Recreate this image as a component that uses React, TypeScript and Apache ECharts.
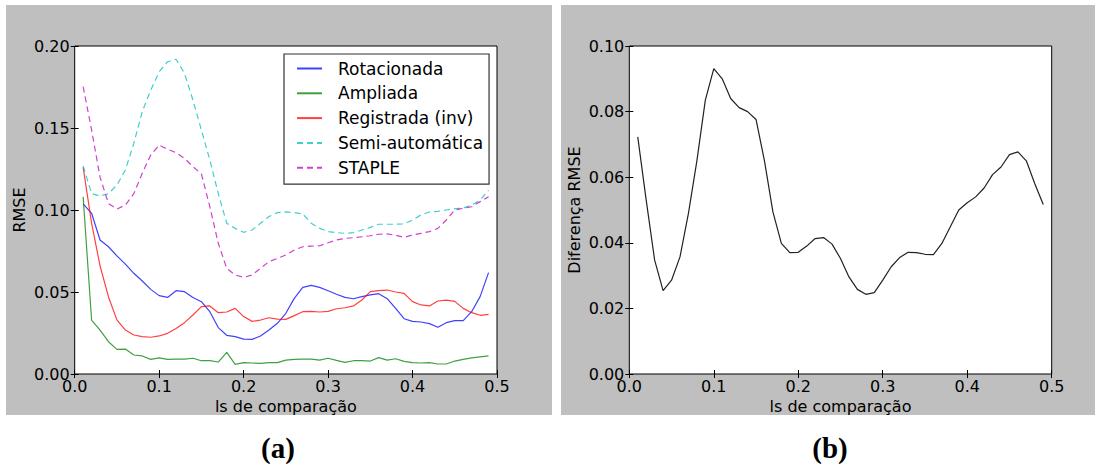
import React, { useEffect, useRef } from "react";
import * as echarts from "echarts";

const ls = [0.01,0.02,0.03,0.04,0.05,0.06,0.07,0.08,0.09,0.10,0.11,0.12,0.13,0.14,0.15,0.16,0.17,0.18,0.19,0.20,0.21,0.22,0.23,0.24,0.25,0.26,0.27,0.28,0.29,0.30,0.31,0.32,0.33,0.34,0.35,0.36,0.37,0.38,0.39,0.40,0.41,0.42,0.43,0.44,0.45,0.46,0.47,0.48,0.49];

const rotacionada = [0.1037,0.098,0.0817,0.0776,0.072,0.067,0.0614,0.0567,0.0516,0.0478,0.0467,0.0508,0.0502,0.0467,0.0441,0.038,0.0283,0.0236,0.0228,0.0213,0.0211,0.0232,0.0268,0.0309,0.037,0.0461,0.0528,0.054,0.0528,0.0508,0.0486,0.0467,0.0459,0.0472,0.0482,0.049,0.0459,0.040,0.0337,0.0321,0.0317,0.0307,0.0285,0.0313,0.0325,0.0325,0.038,0.0472,0.0618];
const ampliada = [0.108,0.0329,0.0268,0.0197,0.015,0.0152,0.0116,0.011,0.0089,0.0098,0.0089,0.0091,0.0091,0.0096,0.0081,0.0081,0.0073,0.0132,0.0059,0.0069,0.0067,0.0065,0.0069,0.0069,0.0085,0.0089,0.0091,0.0091,0.0085,0.0096,0.0083,0.0071,0.0081,0.0081,0.0079,0.01,0.0085,0.0093,0.0077,0.0069,0.0067,0.0069,0.0061,0.0061,0.0079,0.0089,0.0098,0.0104,0.011];
const registrada = [0.126,0.092,0.066,0.047,0.033,0.0268,0.0238,0.0228,0.0224,0.0232,0.0248,0.0278,0.0313,0.036,0.0411,0.0415,0.0374,0.0378,0.040,0.035,0.0321,0.0329,0.0343,0.0335,0.0333,0.0356,0.038,0.0382,0.0378,0.0382,0.0398,0.0404,0.0415,0.0451,0.0502,0.0508,0.0512,0.050,0.0492,0.0441,0.0421,0.0415,0.0445,0.0451,0.0443,0.040,0.0374,0.0358,0.0364];
const semiAutomatica = [0.1268,0.110,0.1085,0.110,0.1152,0.1244,0.1407,0.16,0.173,0.1843,0.1904,0.1919,0.1833,0.167,0.1488,0.1305,0.110,0.0919,0.0888,0.0864,0.0878,0.0919,0.096,0.0984,0.0988,0.0984,0.0976,0.0919,0.0888,0.0868,0.0862,0.0858,0.0862,0.0878,0.0894,0.0913,0.0913,0.0913,0.0915,0.0939,0.097,0.0988,0.0992,0.100,0.1008,0.1012,0.103,0.106,0.112];
const staple = [0.1752,0.1488,0.120,0.104,0.1006,0.103,0.110,0.1224,0.1335,0.1396,0.137,0.135,0.1315,0.1264,0.122,0.102,0.0797,0.0644,0.0604,0.0589,0.0604,0.0644,0.0685,0.0705,0.0726,0.0756,0.0776,0.078,0.0782,0.080,0.0817,0.0827,0.0831,0.0837,0.0843,0.0852,0.0854,0.0846,0.0833,0.0848,0.0858,0.0868,0.0888,0.0939,0.100,0.101,0.102,0.1051,0.108];
const diferencaRmse = [0.0723,0.053,0.0347,0.0254,0.0286,0.0357,0.049,0.065,0.0835,0.0931,0.090,0.084,0.0812,0.080,0.0776,0.065,0.0494,0.0398,0.037,0.0371,0.039,0.0413,0.0416,0.0396,0.0352,0.0296,0.0258,0.0243,0.0248,0.0286,0.0327,0.0355,0.0371,0.037,0.0365,0.0364,0.0398,0.0449,0.050,0.0522,0.054,0.0567,0.0608,0.0631,0.0669,0.0677,0.065,0.058,0.0517];

const seriesNames = ["Rotacionada", "Ampliada", "Registrada (inv)", "Semi-automática", "STAPLE"];
const xAxisTitle = "ls de comparação";
const yTitleA = "RMSE";
const yTitleB = "Diferença RMSE";
const panelLabels = ["(a)", "(b)"];

const FONT = "'DejaVu Sans', sans-serif";

export default function App() {
  const ref = useRef<HTMLDivElement>(null);
  useEffect(() => {
    if (!ref.current) return;
    const chart = echarts.init(ref.current, null, { renderer: "svg" });
    const pairs = (ys: number[]) => ls.map((x, i) => [x, ys[i]]);
    const tickStyle = { show: true, inside: true, length: 4, lineStyle: { color: "#000", width: 1 } };
    const labelStyle = { color: "#000", fontSize: 16, fontFamily: FONT };
    const nameStyle = { color: "#000", fontSize: 16, fontFamily: FONT };
    const mkX = (grid: number, bottom: boolean) => ({
      type: "value", gridIndex: grid, position: bottom ? "bottom" : "top",
      min: 0, max: 0.5, interval: 0.1,
      axisLine: { show: false }, splitLine: { show: false },
      axisTick: tickStyle,
      axisLabel: bottom ? { ...labelStyle, margin: 4, formatter: (v: number) => v.toFixed(1) } : { show: false },
      name: bottom ? xAxisTitle : "", nameLocation: "middle", nameGap: 24, nameTextStyle: nameStyle,
    });
    const mkY = (grid: number, left: boolean, max: number, interval: number, title: string, gap: number) => ({
      type: "value", gridIndex: grid, position: left ? "left" : "right",
      min: 0, max, interval,
      axisLine: { show: false }, splitLine: { show: false },
      axisTick: tickStyle,
      axisLabel: left ? { ...labelStyle, margin: 5, formatter: (v: number) => v.toFixed(2) } : { show: false },
      name: left ? title : "", nameLocation: "middle", nameRotate: 90, nameGap: gap, nameTextStyle: nameStyle,
    });
    const line = (name: string, ys: number[], color: string, dashed: boolean) => ({
      type: "line", name, xAxisIndex: 0, yAxisIndex: 0, data: pairs(ys),
      symbol: "none", showSymbol: false, z: 3,
      lineStyle: { color, width: 1.2, opacity: 0.75, type: dashed ? [6, 4] : "solid" },
      itemStyle: { color },
    });
    chart.setOption({
      animation: false,
      graphic: [
        { type: "rect", z: -10, silent: true, shape: { x: 6, y: 5, width: 546, height: 410 }, style: { fill: "#bfbfbf" } },
        { type: "rect", z: -10, silent: true, shape: { x: 561, y: 5, width: 534, height: 410 }, style: { fill: "#bfbfbf" } },
        { type: "text", x: 278, y: 448, style: { text: panelLabels[0], fill: "#000", font: "bold 29px 'Liberation Serif', serif", align: "center", verticalAlign: "middle" } },
        { type: "text", x: 830, y: 448, style: { text: panelLabels[1], fill: "#000", font: "bold 29px 'Liberation Serif', serif", align: "center", verticalAlign: "middle" } },
      ],
      grid: [
        { left: 74.7, top: 46, width: 422.3, height: 328, show: true, backgroundColor: "#fff", borderColor: "#000", borderWidth: 1 },
        { left: 629.3, top: 46, width: 422.4, height: 328, show: true, backgroundColor: "#fff", borderColor: "#000", borderWidth: 1 },
      ],
      xAxis: [mkX(0, true), mkX(0, false), mkX(1, true), mkX(1, false)],
      yAxis: [
        mkY(0, true, 0.2, 0.05, yTitleA, 47), mkY(0, false, 0.2, 0.05, "", 47),
        mkY(1, true, 0.1, 0.02, yTitleB, 47), mkY(1, false, 0.1, 0.02, "", 47),
      ],
      legend: {
        show: true, orient: "vertical", left: 284, top: 54,
        padding: [6, 6, 8, 12], itemGap: 7.8, itemWidth: 25, itemHeight: 14,
        backgroundColor: "#fff", borderColor: "#333", borderWidth: 1.2, borderRadius: 0,
        align: "left",
        itemStyle: { color: "transparent", borderWidth: 0, opacity: 0 },
        textStyle: { color: "#000", fontSize: 17, fontFamily: FONT, lineHeight: 17, padding: [0, 0, 0, 11] },
        data: seriesNames,
      },
      series: [
        line(seriesNames[0], rotacionada, "#0000ff", false),
        line(seriesNames[1], ampliada, "#008000", false),
        line(seriesNames[2], registrada, "#ff0000", false),
        line(seriesNames[3], semiAutomatica, "#00bfbf", true),
        line(seriesNames[4], staple, "#bf00bf", true),
        {
          type: "line", name: "diff", xAxisIndex: 2, yAxisIndex: 2, data: pairs(diferencaRmse),
          symbol: "none", showSymbol: false, z: 3,
          lineStyle: { color: "#222", width: 1.2 },
        },
      ],
    });
    return () => chart.dispose();
  }, []);
  return <div ref={ref} style={{ position: "absolute", left: 0, top: 0, width: 1099, height: 466 }} />;
}
